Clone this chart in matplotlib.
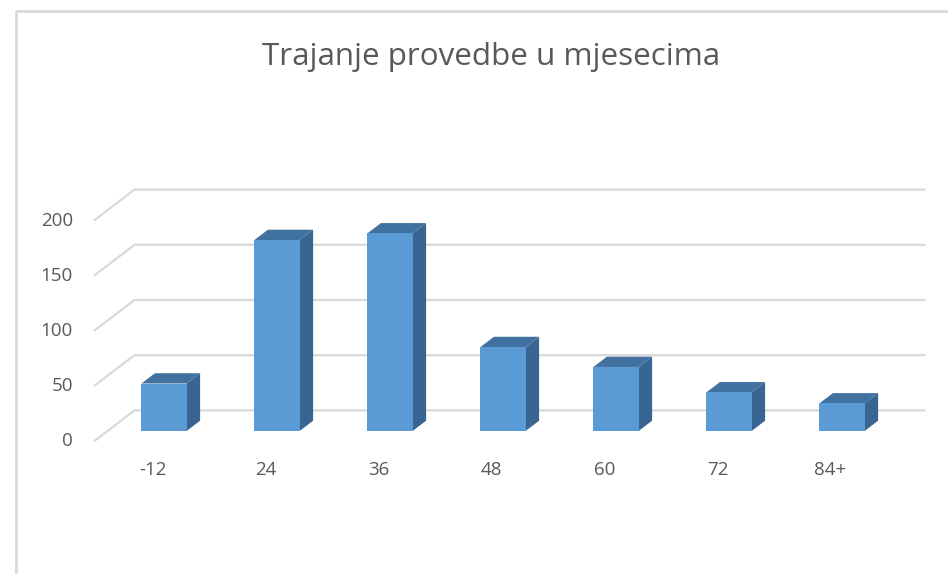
import matplotlib
matplotlib.use("Agg")
import matplotlib.pyplot as plt
from matplotlib.patches import Polygon

# chart data
categories = ["-12", "24", "36", "48", "60", "72", "84+"]
counts = [43, 173, 179, 76, 58, 35, 25]
y_ticks = [0, 50, 100, 150, 200]

title = "Trajanje provedbe u mjesecima"
font = "Open Sans"
text_col = "#595959"
grid_col = "#d9d9d9"
front_col = "#5b9bd5"
top_col = "#41729f"
side_col = "#386591"

W, H, DPI = 948, 574, 100
fig = plt.figure(figsize=(W / DPI, H / DPI), dpi=DPI)
ax = fig.add_axes([0, 0, 1, 1])

# map: one category = 113 px, 50 units = 55.2 px, bar front plane value 0 at y=431 px
px_x = 113.0
px_v = 55.2 / 50
x0 = 164.0
ax.set_xlim(-x0 / px_x, (W - x0) / px_x)
ax.set_ylim(-(H - 431) / px_v, 431 / px_v)
ax.axis("off")

# oblique depth: one unit shifts right / up
ddx = 13.5 / px_x
ddv = 10.3 / px_v


def P(x, v, d=0.0):
    return (x + d * ddx, v + d * ddv)


# back wall gridlines + left floor/side diagonals
left, right = -0.5, 6.5
for t in y_ticks:
    pts = [P(left, t, -1), P(left, t, 2), P(right, t, 2)]
    ax.plot([p[0] for p in pts], [p[1] for p in pts],
            color=grid_col, lw=1.6, solid_capstyle="butt", zorder=1)
    ax.annotate(str(t), P(left, t, -1), xytext=(-21, 0),
                textcoords="offset pixels", ha="right", va="center",
                fontsize=13.5, color=text_col, family=font)

# 3d looking bars
bw = 0.4
for i, (lab, c) in enumerate(zip(categories, counts)):
    xl, xr = i - bw / 2, i + bw / 2
    front = [P(xl, 0), P(xr, 0), P(xr, c), P(xl, c)]
    side = [P(xr, 0), P(xr, 0, 1), P(xr, c, 1), P(xr, c)]
    top = [P(xl, c), P(xr, c), P(xr, c, 1), P(xl, c, 1)]
    ax.add_patch(Polygon(side, closed=True, fc=side_col, ec="none", zorder=3))
    ax.add_patch(Polygon(top, closed=True, fc=top_col, ec="none", zorder=3))
    ax.add_patch(Polygon(front, closed=True, fc=front_col, ec="none", zorder=4))
    ax.annotate(lab, P(i, 0, -1), xytext=(2, -29), textcoords="offset pixels",
                ha="center", va="center", fontsize=13.5, color=text_col,
                family=font)

# chart title
fig.text(491 / W, 1 - 57 / H, title, ha="center", va="center",
         fontsize=22.6, color=text_col, family=font)

# chart area border (only top and left are visible in the crop)
fig.add_artist(plt.Line2D([16 / W, 16 / W, 1], [0, 1 - 11 / H, 1 - 11 / H],
                          color=grid_col, lw=2, transform=fig.transFigure))

fig.savefig("out.png", dpi=DPI, facecolor="white")
